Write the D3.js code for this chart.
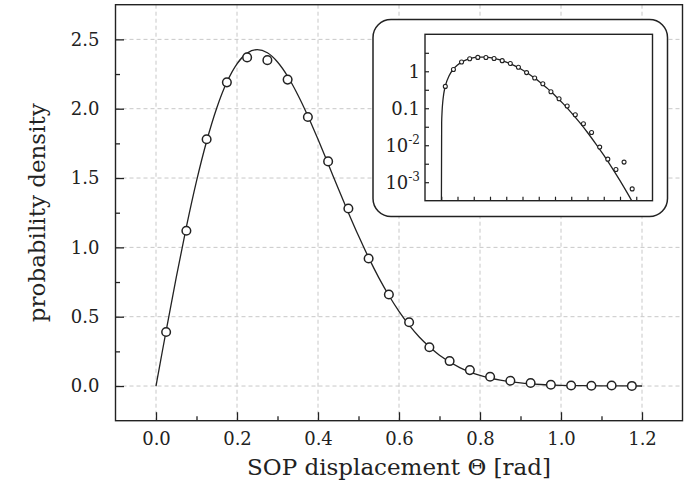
<!DOCTYPE html>
<html><head><meta charset="utf-8">
<script src="https://cdn.jsdelivr.net/npm/d3@7"></script>
<style>body{margin:0;background:#fff}svg{display:block}text{font-family:"DejaVu Serif",serif;fill:#222}</style>
</head><body>
<script>
// Measured points (SOP displacement, probability density)
const pointX = [0.025,0.075,0.125,0.175,0.225,0.275,0.325,0.375,0.425,0.475,0.525,0.575,0.625,0.675,0.725,0.775,0.825,0.875,0.925,0.975,1.025,1.075,1.125,1.175];
const pointY = [0.39,1.12,1.78,2.19,2.37,2.35,2.21,1.94,1.62,1.28,0.92,0.66,0.46,0.28,0.18,0.115,0.067,0.038,0.022,0.0089,0.0042,0.0022,0.0035,0.00066];
// Theory curve
const curveX = [0,0.0025,0.005,0.01,0.015,0.025,0.05,0.075,0.1,0.125,0.15,0.175,0.2,0.225,0.25,0.275,0.3,0.325,0.35,0.375,0.4,0.425,0.45,0.475,0.5,0.525,0.55,0.575,0.6,0.625,0.65,0.675,0.7,0.75,0.8,0.85,0.9,0.95,1.0,1.05,1.1,1.15,1.2];
const curveY = [0,0.04,0.08,0.16,0.24,0.398,0.784,1.147,1.477,1.765,2.005,2.192,2.324,2.401,2.426,2.403,2.337,2.234,2.101,1.948,1.779,1.603,1.424,1.250,1.083,0.926,0.782,0.653,0.539,0.439,0.354,0.283,0.222,0.133,0.0764,0.042,0.0221,0.0111,0.00537,0.00248,0.0011,0.000467,0.00019];
const xTicks = [0.0,0.2,0.4,0.6,0.8,1.0,1.2];
const xMinor = [0.1,0.3,0.5,0.7,0.9,1.1];
const yTicks = [0.0,0.5,1.0,1.5,2.0,2.5];
const yMinor = [0.25,0.75,1.25,1.75,2.25];
const insetYLabels = [1,0.1,0.01,0.001];
const insetYTicks = [3.16,1,0.316,0.1,0.0316,0.01,0.00316,0.001];
const insetXTicks = [0,0.1,0.2,0.3,0.4,0.5,0.6,0.7,0.8,0.9,1.0,1.1,1.2];

const W=700,H=491;
const svg=d3.select("body").append("svg").attr("width",W).attr("height",H);
const L=115.5,R=682.5,T=4.7,B=420.7;
const x=d3.scaleLinear().domain([-0.1,1.3]).range([L,R]);
const y=d3.scaleLinear().domain([-0.25,2.75]).range([B,T]);

// grid
const g=svg.append("g");
g.selectAll(".gx").data(xTicks).join("line").attr("x1",d=>x(d)).attr("x2",d=>x(d)).attr("y1",T).attr("y2",B)
 .attr("stroke","#c8c8c8").attr("stroke-width",1).attr("stroke-dasharray","4,3");
g.selectAll(".gy").data(yTicks).join("line").attr("y1",d=>y(d)).attr("y2",d=>y(d)).attr("x1",L).attr("x2",R)
 .attr("stroke","#c8c8c8").attr("stroke-width",1).attr("stroke-dasharray","4,3");

const pts=curveX.map((d,i)=>[d,curveY[i]]);
svg.append("path").datum(pts).attr("fill","none").attr("stroke","#222").attr("stroke-width",1.3)
 .attr("d",d3.line().x(d=>x(d[0])).y(d=>y(d[1])).curve(d3.curveMonotoneX));
svg.selectAll(".pt").data(pointX.map((d,i)=>[d,pointY[i]])).join("circle")
 .attr("cx",d=>x(d[0])).attr("cy",d=>y(d[1])).attr("r",4.3).attr("fill","#fff").attr("stroke","#222").attr("stroke-width",1.5);

// axes
const xa=svg.append("g").attr("transform",`translate(0,${B})`).call(d3.axisBottom(x).tickValues(xTicks).tickSize(-8.5).tickPadding(12).tickFormat(d3.format(".1f")));
const xm=svg.append("g").attr("transform",`translate(0,${B})`).call(d3.axisBottom(x).tickValues(xMinor).tickSize(-4.5).tickFormat(""));
const ya=svg.append("g").attr("transform",`translate(${L},0)`).call(d3.axisLeft(y).tickValues(yTicks).tickSize(-8.5).tickPadding(16).tickFormat(d3.format(".1f")));
const ym=svg.append("g").attr("transform",`translate(${L},0)`).call(d3.axisLeft(y).tickValues(yMinor).tickSize(-4.5).tickFormat(""));
[xa,xm,ya,ym].forEach(a=>{a.select(".domain").remove();a.selectAll("line").attr("stroke","#222").attr("stroke-width",1.3);
 a.selectAll("text").attr("font-size",18).attr("font-family","DejaVu Serif").attr("fill","#333");});
svg.append("rect").attr("x",L).attr("y",T).attr("width",R-L).attr("height",B-T).attr("fill","none").attr("stroke","#222").attr("stroke-width",1.4);

svg.append("text").attr("x",(L+R)/2).attr("y",475).attr("text-anchor","middle").attr("font-size",23).text("SOP displacement Θ [rad]");
svg.append("text").attr("transform",`translate(45,${(T+B)/2}) rotate(-90)`).attr("text-anchor","middle").attr("font-size",23).text("probability density");

// inset
svg.append("rect").attr("x",373).attr("y",19.5).attr("width",294.5).attr("height",197).attr("rx",18).attr("ry",18)
 .attr("fill","#fff").attr("stroke","#222").attr("stroke-width",1.5);
const iL=425,iR=652.5,iT=34.3,iB=200.7;
const ix=d3.scaleLinear().domain([-0.1,1.3]).range([iL,iR]);
const iy=d3.scaleLog().domain([Math.pow(10,-3.5),10]).range([iB,iT]);
svg.append("clipPath").attr("id","ic").append("rect").attr("x",iL).attr("y",iT).attr("width",iR-iL).attr("height",iB-iT);
const ig=svg.append("g").attr("clip-path","url(#ic)");
ig.append("path").datum(pts).attr("fill","none").attr("stroke","#222").attr("stroke-width",1.3)
 .attr("d",d3.line().x(d=>ix(d[0])).y(d=>iy(Math.max(d[1],1e-5))).curve(d3.curveMonotoneX));
ig.selectAll(".ipt").data(pointX.map((d,i)=>[d,pointY[i]])).join("circle")
 .attr("cx",d=>ix(d[0])).attr("cy",d=>iy(d[1])).attr("r",2).attr("fill","#fff").attr("stroke","#222").attr("stroke-width",1.1);
const iax=svg.append("g").attr("transform",`translate(0,${iB})`).call(d3.axisBottom(ix).tickValues(insetXTicks).tickSize(-4).tickFormat(""));
const iay=svg.append("g").attr("transform",`translate(${iL},0)`).call(d3.axisLeft(iy).tickValues(insetYTicks).tickSize(-4).tickFormat(""));
[iax,iay].forEach(a=>{a.select(".domain").remove();a.selectAll("line").attr("stroke","#222").attr("stroke-width",1.2);});
svg.append("rect").attr("x",iL).attr("y",iT).attr("width",iR-iL).attr("height",iB-iT).attr("fill","none").attr("stroke","#222").attr("stroke-width",1.4);
const lab=svg.append("g").attr("font-size",18).attr("text-anchor","end");
insetYLabels.forEach(v=>{
  const t=lab.append("text").attr("x",iL-5).attr("y",iy(v)+6.5).attr("fill","#333");
  if(v>=0.1){t.text(v===1?"1":"0.1");}
  else{const e=Math.round(Math.log10(v));t.append("tspan").text("10");t.append("tspan").attr("font-size",12).attr("dy",-8).text(String(e).replace("−","-"));}
});
</script>
</body></html>
